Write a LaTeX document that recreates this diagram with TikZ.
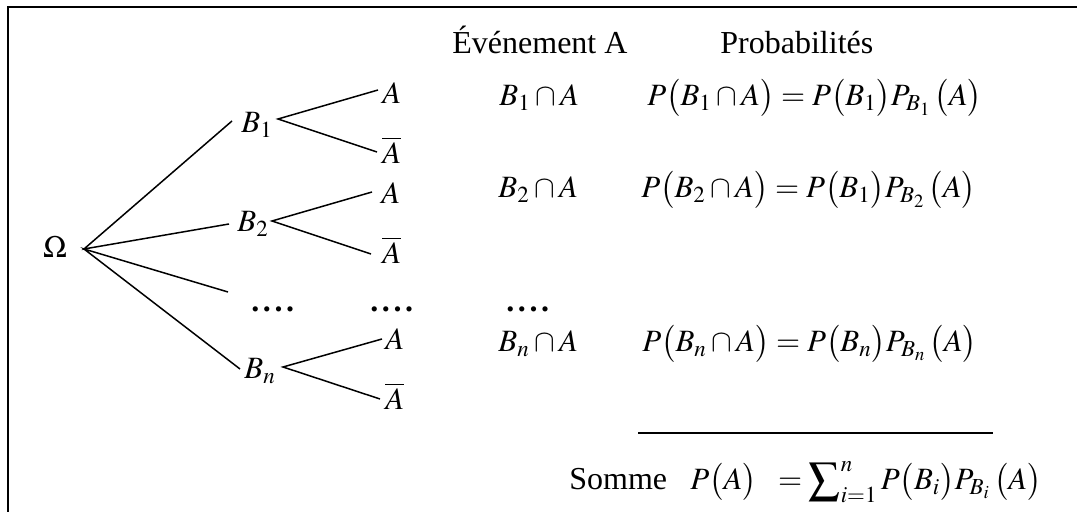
\documentclass[tikz,border=0pt]{standalone}
\usepackage{mathptmx}
\usepackage{fontspec}
\setmainfont{Liberation Serif}
\begin{document}
\begin{tikzpicture}[x=0.5pt,y=-0.5pt,
  txt/.style={font=\fontsize{16}{19}\selectfont, inner sep=0pt},
  mth/.style={font=\fontsize{15.5}{18}\selectfont, inner sep=0pt},
  dts/.style={font=\fontsize{16}{19}\selectfont\bfseries, inner sep=0pt},
  branch/.style={line width=0.75pt},
  framing/.style={line width=1pt}]
\useasboundingbox (0,0) rectangle (1077,512);
\draw[framing] (8,512) -- (8,7) -- (1077,7);

% tree labels
\node[mth, anchor=base] (om) at (55,258) {$\Omega$};
\node[mth, anchor=base west] (b1) at (241,133) {$B_1$};
\node[mth, anchor=base west] (b2) at (237,232) {$B_2$};
\node[dts, anchor=base west] (d1) at (251,312) {.\kern1.8pt.\kern1.8pt.\kern1.8pt.};
\node[mth, anchor=base west] (bn) at (244,379) {$B_n$};
\node[mth, anchor=base west] (a1) at (382,104) {$A$};
\node[mth, anchor=base west] (na1) at (382,164) {$\overline{A}$};
\node[mth, anchor=base west] (a2) at (381,204) {$A$};
\node[mth, anchor=base west] (na2) at (382,264) {$\overline{A}$};
\node[dts, anchor=base west] (d2) at (370,312) {.\kern1.8pt.\kern1.8pt.\kern1.8pt.};
\node[mth, anchor=base west] (a3) at (385,350) {$A$};
\node[mth, anchor=base west] (na3) at (385,410) {$\overline{A}$};

% connector ends
\coordinate (root) at (84,249);
\coordinate (e1) at (232,121);
\coordinate (e2) at (229,224);
\coordinate (ed) at (228,292);
\coordinate (en) at (240,369);
\coordinate (p1) at (278,119);
\coordinate (p1a) at (378,90);
\coordinate (p1b) at (377,152);
\coordinate (p2) at (272,221);
\coordinate (p2a) at (372,192);
\coordinate (p2b) at (371,254);
\coordinate (pn) at (283,367);
\coordinate (pna) at (382,339);
\coordinate (pnb) at (380,399);

\draw[branch] (e1) -- (root) -- (e2);
\draw[branch] (ed) -- (root) -- (en);
\draw[branch] (p1a) -- (p1) -- (p1b);
\draw[branch] (p2a) -- (p2) -- (p2b);
\draw[branch] (pna) -- (pn) -- (pnb);

% headers
\node[txt, anchor=base west] (h1) at (452,54) {Événement A};
\node[txt, anchor=base west] (h2) at (720,54) {Probabilités};

% rows
\node[mth, anchor=base west] (r1a) at (499,106) {$B_1\cap A$};
\node[mth, anchor=base west] (r1b) at (647,106) {$P\bigl(B_1\cap A\bigr)=P\bigl(B_1\bigr)P_{B_1}\,\bigl(A\bigr)$};
\node[mth, anchor=base west] (r2a) at (498,198) {$B_2\cap A$};
\node[mth, anchor=base west] (r2b) at (641,198) {$P\bigl(B_2\cap A\bigr)=P\bigl(B_1\bigr)P_{B_2}\,\bigl(A\bigr)$};
\node[dts, anchor=base west] (d3) at (506,312) {.\kern1.8pt.\kern1.8pt.\kern1.8pt.};
\node[mth, anchor=base west] (r3a) at (498,352) {$B_n\cap A$};
\node[mth, anchor=base west] (r3b) at (642,352) {$P\bigl(B_n\cap A\bigr)=P\bigl(B_n\bigr)P_{B_n}\,\bigl(A\bigr)$};

% sum
\coordinate (rl) at (638,433);
\coordinate (rr) at (993,433);
\draw[branch] (rl) -- (rr);
\node[txt, anchor=base west] (somme) at (569,490) {Somme};
\node[mth, anchor=base west] (pa) at (690,490) {$P\bigl(A\bigr)$};
\node[mth, anchor=base east] (sum) at (1042,490) {$=\displaystyle\sum\nolimits_{i=1}^{n}P\bigl(B_i\bigr)P_{B_i}\,\bigl(A\bigr)$};
\end{tikzpicture}
\end{document}
